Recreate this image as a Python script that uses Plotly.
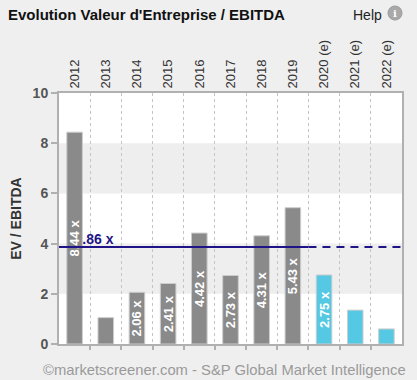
import plotly.graph_objects as go

# ---- data ----
years = ["2012", "2013", "2014", "2015", "2016", "2017", "2018", "2019",
         "2020 (e)", "2021 (e)", "2022 (e)"]
ev_ebitda = [8.44, 1.05, 2.06, 2.41, 4.42, 2.73, 4.31, 5.43, 2.75, 1.35, 0.6]
is_estimate = [False] * 8 + [True] * 3
average = 3.86
n_hist = sum(1 for e in is_estimate if not e)

GRAY = "#8a8a8a"
CYAN = "#55c9e3"
NAVY = "#1e1488"
PAGE = "#efefef"
FONT = "Liberation Sans, Arial, sans-serif"

idx = list(range(len(years)))
bar_colors = [CYAN if e else GRAY for e in is_estimate]
bar_text = [f"{v:.2f} x" if v >= 2 else "" for v in ev_ebitda]

fig = go.Figure()

# average label (main subplot, drawn beneath the bars)
fig.add_trace(go.Scatter(
    x=[idx[0]], y=[average], mode="text", text=[f"{average:.2f} x"],
    textposition="top right", cliponaxis=False,
    textfont=dict(family=FONT, size=14, color=NAVY, weight="bold"),
    hoverinfo="skip", showlegend=False, xaxis="x", yaxis="y"))

# bars (overlay subplot)
fig.add_trace(go.Bar(
    x=idx, y=ev_ebitda, width=0.5,
    marker=dict(color=bar_colors, line=dict(color="#cdcdcd", width=1)),
    text=bar_text, textposition="inside", insidetextanchor="middle",
    textangle=-90, constraintext="none",
    textfont=dict(family=FONT, size=13, color="white", weight="bold"),
    showlegend=False, xaxis="x2", yaxis="y2"))

# average line: solid over history, dashed over estimates
fig.add_trace(go.Scatter(
    x=[idx[0] - 0.5, n_hist - 0.5], y=[average, average], mode="lines",
    line=dict(color=NAVY, width=2), showlegend=False, hoverinfo="skip",
    xaxis="x2", yaxis="y2"))
fig.add_trace(go.Scatter(
    x=[n_hist - 0.5, idx[-1] + 0.5], y=[average, average], mode="lines",
    line=dict(color=NAVY, width=2, dash="8px,6px"), showlegend=False,
    hoverinfo="skip", xaxis="x2", yaxis="y2"))

xr = [-0.5, len(years) - 0.5]
yr = [0, 10]
ytick = [0, 2, 4, 6, 8, 10]

# alternating horizontal bands
shapes = []
for lo in ytick[1:-1:2]:
    shapes.append(dict(type="rect", xref="paper", yref="y", x0=0, x1=1,
                       y0=lo, y1=lo + 2, fillcolor="#eeeeee",
                       line=dict(width=0), layer="below"))
# help icon
shapes.append(dict(type="circle", xref="paper", yref="paper",
                   xsizemode="pixel", ysizemode="pixel",
                   xanchor=(395 - 59) / 343, yanchor=(344 - 13) / 251,
                   x0=-7, x1=7, y0=-7, y1=7,
                   fillcolor="#a9a9a9", line=dict(color="#9a9a9a", width=1)))

fig.update_layout(
    width=417, height=380,
    margin=dict(l=59, r=15, t=93, b=36),
    paper_bgcolor=PAGE, plot_bgcolor="white",
    font=dict(family=FONT),
    bargap=0.5,
    title=dict(text="<b>Evolution Valeur d'Entreprise / EBITDA</b>",
               x=8 / 417, xanchor="left", xref="container",
               y=1 - 15 / 380, yanchor="middle", yref="container",
               font=dict(family=FONT, size=15, color="#111111")),
    xaxis=dict(range=xr, tickmode="array", tickvals=idx, ticktext=years,
               side="top", tickangle=-90, ticks="", showgrid=False,
               zeroline=False, showline=True, mirror=True, automargin=False,
               linecolor="#b0b0b0", linewidth=2,
               tickfont=dict(family=FONT, size=13, color="#333333")),
    xaxis2=dict(range=xr, overlaying="x", anchor="y", side="bottom",
                tickmode="array", tickvals=[i + 0.5 for i in idx[:-1]],
                ticks="outside", ticklen=5, tickcolor="#b0b0b0", tickwidth=2,
                showticklabels=False, showgrid=True, griddash="dot",
                gridcolor="#c4c4c4", gridwidth=1, zeroline=False,
                showline=False, automargin=False),
    yaxis=dict(range=yr, tickvals=ytick, ticks="outside", ticklen=6,
               tickcolor="#b0b0b0", tickwidth=2, showgrid=False,
               zeroline=False, showline=True, mirror=True, automargin=False,
               linecolor="#b0b0b0", linewidth=2,
               tickfont=dict(family=FONT, size=14, color="#555555",
                             weight="bold"),
               title=dict(text="<b>EV / EBITDA</b>", standoff=8,
                          font=dict(family=FONT, size=14, color="#333333"))),
    yaxis2=dict(range=yr, overlaying="y", anchor="x", visible=False),
    shapes=shapes,
    annotations=[
        dict(text="Help", xref="paper", yref="paper",
             x=(384 - 59) / 343, y=(344 - 15) / 251, xanchor="right",
             yanchor="middle", showarrow=False,
             font=dict(family=FONT, size=14, color="#222222")),
        dict(text="<b>i</b>", xref="paper", yref="paper",
             x=(395 - 59) / 343, y=(344 - 13) / 251, xanchor="center",
             yanchor="middle", showarrow=False,
             font=dict(family="DejaVu Serif", size=10, color="white")),
        dict(text="©marketscreener.com - S&P Global Market Intelligence",
             xref="paper", yref="paper", x=(224 - 59) / 343,
             y=(344 - 370) / 251, xanchor="center", yanchor="middle",
             showarrow=False,
             font=dict(family=FONT, size=14.8, color="#9a9a9a")),
    ],
)

fig.write_html("out.html", config={"displayModeBar": False},
               post_script="document.body.style.margin='0';"
                           "document.body.style.overflow='hidden';")
